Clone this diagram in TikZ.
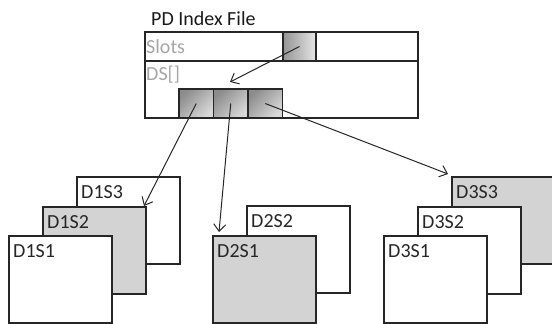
\documentclass[tikz,border=0pt]{standalone}
\usepackage{fontspec}
\setmainfont{Carlito}
\usepackage{tikz}
\usetikzlibrary{positioning,arrows.meta}
\definecolor{sheetgray}{HTML}{D3D3D3}
\definecolor{fieldgray}{HTML}{A6A6A6}

\begin{document}
\begin{tikzpicture}[x=1pt, y=-1pt, font=\fontsize{20pt}{24pt}\selectfont,
    >={Straight Barb[length=7pt,width=12pt]},
    box/.style={draw=black!85, line width=1.5pt, inner sep=0pt, outer sep=0pt},
    slotcell/.style={box, left color=black!42, right color=black!10},
    cell/.style={box, top color=black!45, bottom color=black!15, shading angle=45},
    sheet/.style={box, fill=white, anchor=north west,
        minimum width=103pt, minimum height=87pt},
    sheetlbl/.style={anchor=north west, inner xsep=4pt, inner ysep=8pt, text=black!85}]
    \path[use as bounding box, clip] (0,0) rectangle (552,324);

    % PD index file
    \node[anchor=base west, inner sep=0pt, text=black!90] (title) at (151,25) {PD Index File};
    \node [box,
        anchor=north west,
        minimum width=273pt,
        minimum height=29pt
    ]  (SlotsRow) at (145,32) {};
    \node [box,
        minimum width=273pt,
        minimum height=57pt,
        below=0pt of SlotsRow
    ]  (DSRow) {};
    \node[anchor=base west, inner sep=0pt, text=fieldgray] (slotstxt) at (146,53) {Slots};
    \node[anchor=base west, inner sep=0pt, text=fieldgray] (dstxt) at (146,80) {DS[]};

    % slot cell and DS cells
    \node [slotcell,
        anchor=north west,
        minimum width=33pt,
        minimum height=29pt
    ]  (Slot) at (283,32) {};
    \node [cell,
        anchor=south west,
        minimum width=34.5pt,
        minimum height=29pt
    ]  (CellA) at (179,118) {};
    \node [cell,
        minimum width=34.5pt,
        minimum height=29pt,
        right=0pt of CellA
    ]  (CellB) {};
    \node [cell,
        minimum width=34.5pt,
        minimum height=29pt,
        right=0pt of CellB
    ]  (CellC) {};

    % disk 1
    \node[sheet, label={[sheetlbl]north west:D1S3}] (D1S3) at (77,177) {};
    \node[sheet, fill=sheetgray, label={[sheetlbl]north west:D1S2}] (D1S2) at (43,207) {};
    \node[sheet, label={[sheetlbl]north west:D1S1}] (D1S1) at (9,236) {};
    % disk 2
    \node[sheet, label={[sheetlbl]north west:D2S2}] (D2S2) at (247,206) {};
    \node[sheet, fill=sheetgray, label={[sheetlbl]north west:D2S1}] (D2S1) at (213,236) {};
    % disk 3
    \node[sheet, fill=sheetgray, label={[sheetlbl]north west:D3S3}] (D3S3) at (452,177) {};
    \node[sheet, label={[sheetlbl]north west:D3S2}] (D3S2) at (418,207) {};
    \node[sheet, label={[sheetlbl]north west:D3S1}] (D3S1) at (384,236) {};

    % pointers
    \coordinate (DSTarget) at (230,82);
    \draw[->, line width=1pt, black!85] (Slot.center) -- (DSTarget);
    \draw[->, line width=1pt, black!85] (CellA.center) -- ([shift={(-2,-1)}]D1S2.north east);
    \draw[->, line width=1pt, black!85] (CellB.center) -- ([shift={(6,-4)}]D2S1.north west);
    \draw[->, line width=1pt, black!85] (CellC.center) -- ([shift={(-4,-3)}]D3S3.north west);
\end{tikzpicture}
\end{document}
